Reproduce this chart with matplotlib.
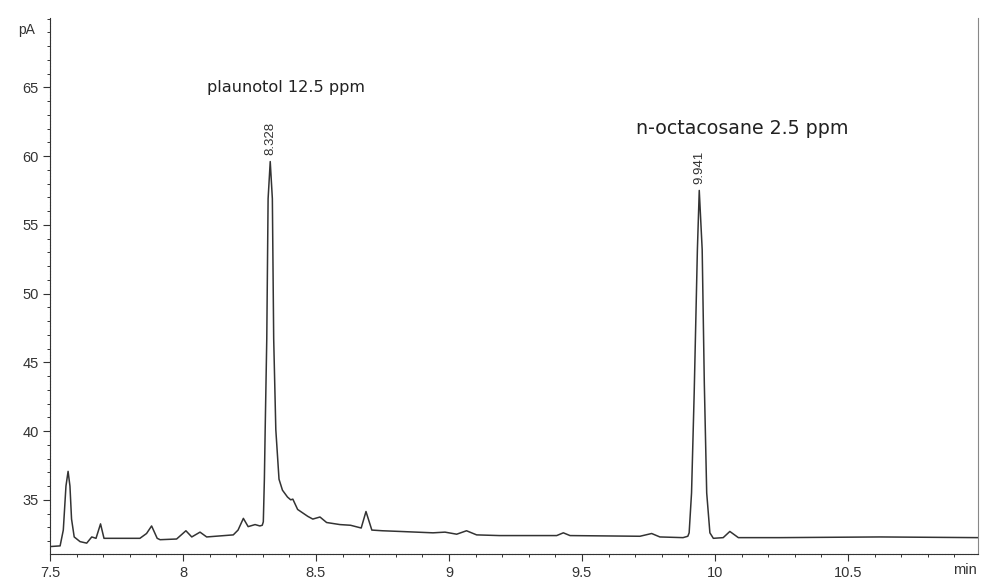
import matplotlib
matplotlib.use("Agg")
import matplotlib.pyplot as plt
from matplotlib.ticker import MultipleLocator

plt.rcParams["font.family"] = ["Liberation Sans", "DejaVu Sans"]

# Retention time (min) and detector signal (pA)
time_min = [
    7.500, 7.538, 7.550, 7.560, 7.568, 7.575, 7.581, 7.591, 7.613, 7.638,
    7.657, 7.673, 7.690, 7.703, 7.726, 7.838, 7.863, 7.882, 7.903, 7.914,
    7.976, 8.011, 8.033, 8.064, 8.089, 8.189, 8.207, 8.227, 8.245, 8.271,
    8.289, 8.298, 8.302, 8.306, 8.309, 8.315, 8.320, 8.328, 8.336, 8.341,
    8.349, 8.361, 8.374, 8.393, 8.405, 8.413, 8.431, 8.469, 8.488, 8.515,
    8.540, 8.590, 8.630, 8.670, 8.688, 8.710, 8.750, 8.816, 8.940, 8.985,
    9.029, 9.066, 9.104, 9.190, 9.242, 9.405, 9.430, 9.455, 9.718, 9.762,
    9.793, 9.880, 9.898, 9.903, 9.912, 9.922, 9.934, 9.941, 9.952, 9.960,
    9.969, 9.981, 9.994, 10.031, 10.056, 10.088, 10.244, 10.620, 10.989,
]
signal_pA = [
    31.60, 31.65, 32.80, 36.00, 37.07, 36.00, 33.60, 32.30, 31.96, 31.85,
    32.30, 32.20, 33.25, 32.20, 32.20, 32.20, 32.55, 33.10, 32.20, 32.10,
    32.15, 32.75, 32.30, 32.65, 32.30, 32.45, 32.80, 33.65, 33.05, 33.20,
    33.10, 33.15, 33.40, 36.50, 40.10, 46.70, 56.90, 59.60, 56.90, 46.70,
    40.10, 36.50, 35.70, 35.20, 35.00, 35.05, 34.30, 33.80, 33.60, 33.75,
    33.35, 33.20, 33.15, 32.95, 34.15, 32.80, 32.75, 32.70, 32.60, 32.65,
    32.50, 32.75, 32.45, 32.40, 32.40, 32.40, 32.60, 32.40, 32.35, 32.55,
    32.30, 32.25, 32.35, 32.60, 35.50, 42.80, 53.20, 57.50, 53.20, 43.50,
    35.50, 32.60, 32.20, 32.25, 32.70, 32.25, 32.25, 32.30, 32.25,
]

peak_times = [8.328, 9.941]
peak_heights = [59.6, 57.5]
peak_labels = ["8.328", "9.941"]

annotations = ["plaunotol 12.5 ppm", "n-octacosane 2.5 ppm"]
annotation_pos = [(8.09, 65.0), (9.703, 62.0)]

x_ticks = [7.5, 8, 8.5, 9, 9.5, 10, 10.5]
x_tick_labels = ["7.5", "8", "8.5", "9", "9.5", "10", "10.5"]
y_ticks = [35, 40, 45, 50, 55, 60, 65]

ink = "#333333"

fig = plt.figure(figsize=(9.82, 5.80), dpi=100)
ax = fig.add_axes([50 / 982, 26 / 580, 928 / 982, 536 / 580])

ax.plot(time_min, signal_pA, color=ink, lw=1.1)

ax.set_xlim(7.5, 10.989)
ax.set_ylim(31.06, 70.04)

ax.set_xticks(x_ticks)
ax.set_xticklabels(x_tick_labels)
ax.set_yticks(y_ticks)
ax.xaxis.set_minor_locator(MultipleLocator(0.1))
ax.yaxis.set_minor_locator(MultipleLocator(1))
ax.tick_params(axis="both", which="major", labelsize=10.5, colors=ink,
               length=5, width=0.8, direction="out")
ax.tick_params(axis="y", which="major", pad=3)
ax.tick_params(axis="both", which="minor", length=2.5, width=0.7,
               colors=ink, direction="out")

ax.spines["top"].set_visible(False)
ax.spines["right"].set_color("#888888")
ax.spines["right"].set_linewidth(0.8)
for s in ["left", "bottom"]:
    ax.spines[s].set_color(ink)
    ax.spines[s].set_linewidth(0.8)
    ax.spines[s].set_linestyle((0, (2, 0.6)))

# unit labels
fig.text(18 / 982, 1 - 30 / 580, "pA", fontsize=10, color=ink,
         ha="left", va="center")
fig.text(965 / 982, 1 - 570 / 580, "min", fontsize=10.5, color=ink,
         ha="center", va="center")

for t, h, lab in zip(peak_times, peak_heights, peak_labels):
    ax.text(t, h + 0.45, lab, rotation=90, ha="center", va="bottom",
            fontsize=9.5, color=ink)

annotation_sizes = [11.6, 13.7]
for txt, (tx, ty), fs in zip(annotations, annotation_pos, annotation_sizes):
    ax.text(tx, ty, txt, ha="left", va="center", fontsize=fs,
            color="#222222", family=["DejaVu Sans"])

fig.savefig("out.png", dpi=100, facecolor="white")
